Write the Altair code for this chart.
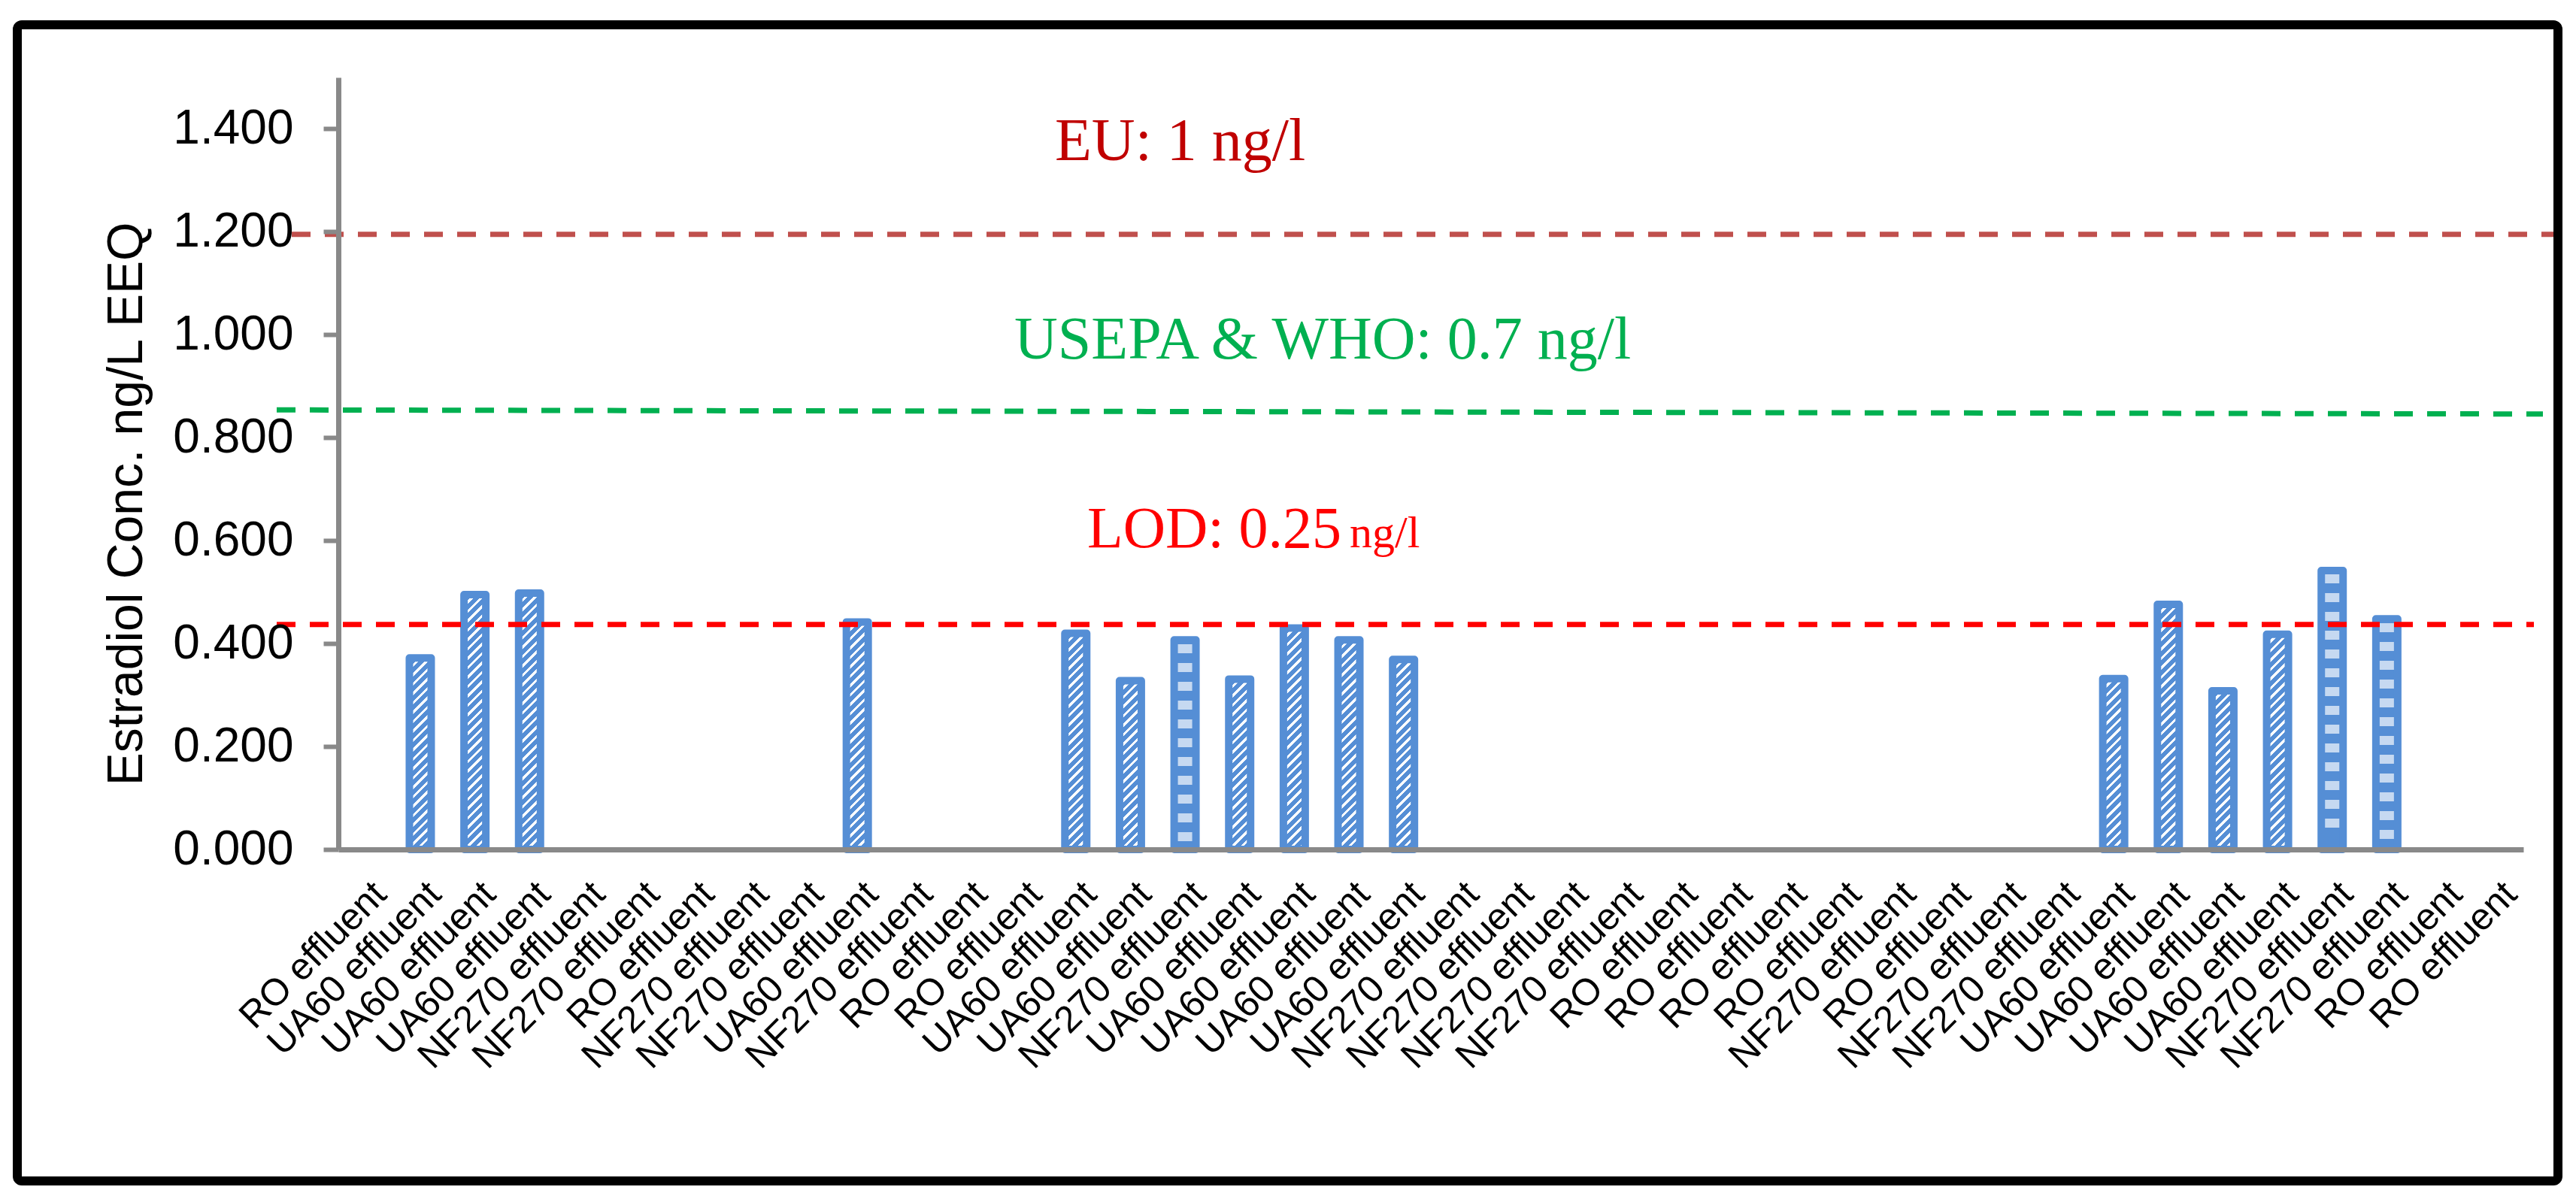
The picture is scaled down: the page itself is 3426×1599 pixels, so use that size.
import json
import altair as alt
import pandas as pd

# ---------------- data ----------------
categories = [
    "RO effluent", "UA60 effluent", "UA60 effluent", "UA60 effluent", "NF270 effluent",
    "NF270 effluent", "RO effluent", "NF270 effluent", "NF270 effluent", "UA60 effluent",
    "NF270 effluent", "RO effluent", "RO effluent", "UA60 effluent", "UA60 effluent",
    "NF270 effluent", "UA60 effluent", "UA60 effluent", "UA60 effluent", "UA60 effluent",
    "NF270 effluent", "NF270 effluent", "NF270 effluent", "NF270 effluent", "RO effluent",
    "RO effluent", "RO effluent", "RO effluent", "NF270 effluent", "RO effluent",
    "NF270 effluent", "NF270 effluent", "UA60 effluent", "UA60 effluent", "UA60 effluent",
    "UA60 effluent", "NF270 effluent", "NF270 effluent", "RO effluent", "RO effluent",
]
values = [
    None, 0.372, 0.495, 0.498, None,
    None, None, None, None, 0.442,
    None, None, None, 0.420, 0.328,
    0.407, 0.331, 0.430, 0.407, 0.369,
    None, None, None, None, None,
    None, None, None, None, None,
    None, None, 0.332, 0.476, 0.308,
    0.418, 0.542, 0.448, None, None,
]
y_ticks = [0.0, 0.2, 0.4, 0.6, 0.8, 1.0, 1.2, 1.4]

# guideline values (ng/L EEQ on the axis) and their captions
eu_level = 1.195
who_level_left, who_level_right = 0.854, 0.846
lod_level = 0.437
eu_text = "EU: 1 ng/l"
who_text = "USEPA & WHO: 0.7 ng/l"
lod_text = "LOD: 0.25"
lod_unit = "ng/l"
eu_text_y, who_text_y, lod_text_y = 1.339, 0.954, 0.587

# ---------------- styling ----------------
PLOT_W, PLOT_H = 2906, 1027
YMAX = 1.5
BAR_W = 29
BLUE = "#558ED5"
LIGHT = "#C6D9F1"
GREY = "#898989"

df = pd.DataFrame({"idx": list(range(len(categories))), "cat": categories, "v": values})
bars_df = df.dropna(subset=["v"]).reset_index(drop=True)

xscale = alt.Scale(domain=list(range(len(categories))), paddingInner=0, paddingOuter=0)
yscale = alt.Scale(domain=[0, YMAX], nice=False, zero=False)

x_axis = alt.Axis(
    title=None,
    labelExpr=json.dumps(categories) + "[datum.value]",
    labelAngle=-45, labelAlign="right", labelBaseline="top",
    labelFont="Liberation Sans", labelFontSize=50, labelColor="black",
    labelPadding=34, labelOffset=2, labelLimit=2000, labelOverlap=False,
    ticks=False, tickSize=0, domainColor=GREY, domainWidth=7, grid=False, zindex=1,
)
y_axis = alt.Axis(
    title="Estradiol Conc. ng/L EEQ", values=y_ticks, format=".3f",
    labelFont="Liberation Sans", labelFontSize=64, labelColor="black", labelPadding=40,
    tickSize=20, tickWidth=6, tickColor=GREY, domainColor=GREY, domainWidth=7, grid=False,
    titleFont="Liberation Sans", titleFontSize=66, titleFontWeight="normal", titleColor="black",
    titleX=-262, titleY=567, titleBaseline="alphabetic", titleAngle=270, titleAlign="center",
    zindex=1,
)
Y = lambda f="v:Q": alt.Y(f, scale=yscale, axis=y_axis)


def zigzag_grad(h):
    w = BAR_W
    r = w / h
    b = (1 + r) / (1 + r * r)
    a = b * r
    period = 12.5 / (h + w)
    stops = []
    t = 0.0
    while t < 1:
        t1 = min(t + period * 0.36, 1)
        t2 = min(t + period, 1)
        stops += [
            {"offset": round(t, 5), "color": "#ffffff"},
            {"offset": round(t1, 5), "color": "#ffffff"},
            {"offset": round(t1, 5), "color": BLUE},
            {"offset": round(t2, 5), "color": BLUE},
        ]
        t += period
    return {"gradient": "linear", "x1": 0, "y1": 0, "x2": a, "y2": b, "stops": stops}


def squares_grad(h):
    stops = [{"offset": 0, "color": BLUE}]
    y = 5.5
    while y + 12 < h - 5:
        stops += [
            {"offset": round(y / h, 5), "color": BLUE},
            {"offset": round(y / h, 5), "color": LIGHT},
            {"offset": round((y + 12) / h, 5), "color": LIGHT},
            {"offset": round((y + 12) / h, 5), "color": BLUE},
        ]
        y += 25
    stops.append({"offset": 1, "color": BLUE})
    return {"gradient": "linear", "x1": 0, "y1": 0, "x2": 0, "y2": 1, "stops": stops}


layers = []

# bars, one layer each so every bar gets its own pattern fill
for _, row in bars_df.iterrows():
    h = row["v"] / YMAX * PLOT_H
    grad = squares_grad(h) if row["cat"].startswith("NF270") else zigzag_grad(h)
    layer = alt.Chart(bars_df).transform_filter(alt.datum.idx == int(row["idx"])).mark_bar(
        size=BAR_W, fill=grad, stroke=BLUE, strokeWidth=10, strokeJoin="round"
    ).encode(
        x=alt.X("idx:O", scale=xscale, axis=x_axis),
        y=Y(),
    )
    layers.append(layer)

# guideline rules
dash = [25, 19]
eu_rule = alt.Chart(pd.DataFrame({"v": [eu_level]})).mark_rule(
    color="#C0504D", strokeWidth=7, strokeDash=dash, strokeCap="butt"
).encode(x=alt.value(388 - 450), x2=alt.value(3419 - 450), y=Y())
who_rule = alt.Chart(pd.DataFrame({"v": [who_level_left], "v2": [who_level_right]})).mark_rule(
    color="#00B050", strokeWidth=7, strokeDash=dash, strokeCap="butt"
).encode(x=alt.value(368 - 450), x2=alt.value(3382 - 450), y=Y(), y2="v2:Q")
lod_rule = alt.Chart(pd.DataFrame({"v": [lod_level]})).mark_rule(
    color="#FF0000", strokeWidth=7, strokeDash=dash, strokeCap="butt"
).encode(x=alt.value(368 - 450), x2=alt.value(3370 - 450), y=Y())
layers += [eu_rule, who_rule, lod_rule]


def caption(text, yv, xpx, color, size):
    return alt.Chart(pd.DataFrame({"v": [yv], "t": [text]})).mark_text(
        font="Liberation Serif", fontSize=size, color=color, align="left", baseline="alphabetic"
    ).encode(x=alt.value(xpx), y=Y(), text="t:N")


layers += [
    caption(eu_text, eu_text_y, 1403 - 450, "#C00000", 80),
    caption(who_text, who_text_y, 1349 - 450, "#00B050", 80),
    caption(lod_text, lod_text_y, 1446 - 450, "#FF0000", 78),
    caption(lod_unit, lod_text_y, 1795 - 450, "#FF0000", 60),
]

# outer frame (drawn last, no scales involved)
frame = alt.Chart(pd.DataFrame({"k": [0]})).mark_rect(
    fill="transparent", stroke="black", strokeWidth=12, cornerRadius=6
).encode(
    x=alt.value(23 - 450), x2=alt.value(3402 - 450),
    y=alt.value(33 - 103), y2=alt.value(1571 - 103),
)
layers.append(frame)

chart = alt.layer(*layers).properties(
    width=PLOT_W, height=PLOT_H,
    autosize=alt.AutoSizeParams(type="none"),
    padding={"left": 442, "top": 95, "right": 60, "bottom": 455},
    background="white",
).configure_view(stroke=None)

chart.save("out.html", embed_options={"renderer": "svg", "actions": False})
